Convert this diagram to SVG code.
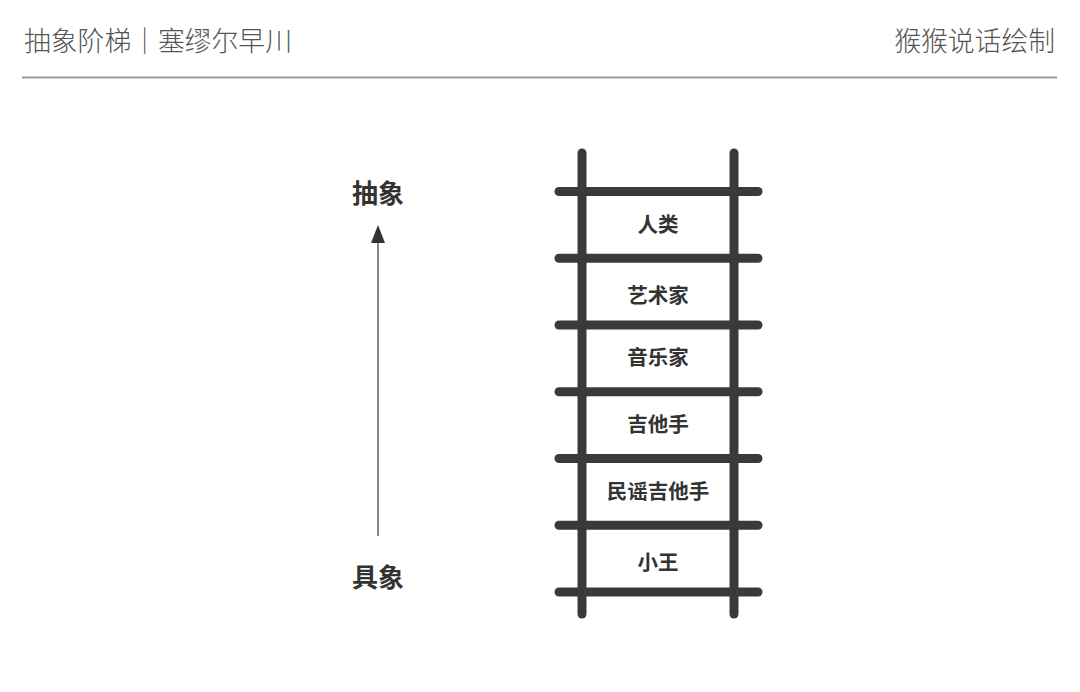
<svg xmlns="http://www.w3.org/2000/svg" width="1080" height="692" viewBox="0 0 1080 692">
<style>
.hdr{font-family:"Noto Sans CJK SC","Noto Sans",sans-serif;font-size:26.8px;font-weight:300;fill:#555}
.axis{font-family:"Noto Sans CJK SC","Noto Sans",sans-serif;font-size:26px;font-weight:700;fill:#333;text-anchor:middle}
.lbl{font-family:"Noto Sans CJK SC","Noto Sans",sans-serif;font-size:20.5px;font-weight:700;fill:#333;text-anchor:middle}
.bar{stroke:#3a3a3a;stroke-width:9;stroke-linecap:round;fill:none}
</style>
<rect width="1080" height="692" fill="#fff"/>
<g id="header">
<text class="hdr" x="24" y="51">抽象阶梯｜塞缪尔早川</text>
<text class="hdr" x="1055" y="51" text-anchor="end">猴猴说话绘制</text>
<line x1="22" y1="77.5" x2="1057" y2="77.5" stroke="#999" stroke-width="2"/>
</g>
<g id="connectors">
<line x1="378" y1="536" x2="378" y2="242" stroke="#888" stroke-width="2"/>
<polygon points="378,225 385,243 371,243" fill="#333"/>
</g>
<g id="abstract"><text class="axis" x="378" y="203">抽象</text></g>
<g id="concrete"><text class="axis" x="378" y="587">具象</text></g>
<g id="ladder">
<line class="bar" x1="582" y1="153" x2="582" y2="614"/>
<line class="bar" x1="734" y1="153" x2="734" y2="614"/>
<line class="bar" x1="559" y1="191.5" x2="758" y2="191.5"/>
<line class="bar" x1="559" y1="258.3" x2="758" y2="258.3"/>
<line class="bar" x1="559" y1="325" x2="758" y2="325"/>
<line class="bar" x1="559" y1="391.8" x2="758" y2="391.8"/>
<line class="bar" x1="559" y1="458.5" x2="758" y2="458.5"/>
<line class="bar" x1="559" y1="525.3" x2="758" y2="525.3"/>
<line class="bar" x1="559" y1="592" x2="758" y2="592"/>
</g>
<g id="n1"><text class="lbl" x="658" y="232">人类</text></g>
<g id="n2"><text class="lbl" x="658" y="303">艺术家</text></g>
<g id="n3"><text class="lbl" x="658" y="365">音乐家</text></g>
<g id="n4"><text class="lbl" x="658" y="432">吉他手</text></g>
<g id="n5"><text class="lbl" x="658" y="499">民谣吉他手</text></g>
<g id="n6"><text class="lbl" x="658" y="570">小王</text></g>
</svg>
